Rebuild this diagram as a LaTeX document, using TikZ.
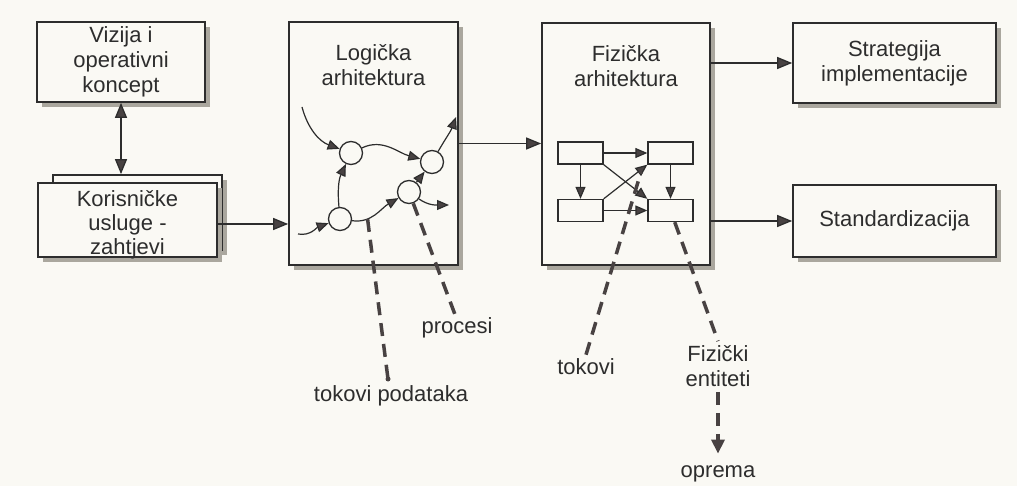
\documentclass[tikz,border=0pt]{standalone}
\usepackage{fontspec}
\setmainfont{Liberation Sans}
\usetikzlibrary{arrows.meta}
\definecolor{papir}{RGB}{250,249,244}
\definecolor{linija}{RGB}{45,45,45}
\definecolor{sjena}{RGB}{170,167,158}
\definecolor{vrh}{RGB}{72,66,66}
\begin{document}
\begin{tikzpicture}[x=1pt,y=1pt,
  font=\fontsize{22}{25}\selectfont, text=linija,
  okvir/.style={draw=linija,line width=1.7pt,fill=papir,shape=rectangle,inner sep=0pt,align=center,
    preaction={fill=sjena,transform canvas={xshift=5pt,yshift=-5pt}}},
  kutija/.style={draw=linija,line width=1.3pt,fill=papir,inner sep=0pt,minimum width=45pt,minimum height=22pt},
  krug/.style={draw=linija,line width=1.3pt,fill=papir,circle,inner sep=0pt,minimum size=23pt},
  tok/.style={draw=linija,line width=1.3pt,-{Triangle[length=15pt,width=12pt,fill=vrh]}},
  tokic/.style={draw=linija,line width=1.2pt,-{Triangle[length=12pt,width=10pt,fill=vrh]}},
  crtkano/.style={draw=vrh,line width=3.5pt,dash pattern=on 13pt off 8pt},
  oznaka/.style={inner sep=0pt,align=center}]
\fill[papir] (0,0) rectangle (1017,-486);
\useasboundingbox (0,0) rectangle (1017,-486);

% lijeva strana
\node[okvir,minimum width=168pt,minimum height=80pt] (viz) at (121,-62) {Vizija i\\operativni\\koncept};
\node[okvir,minimum width=169pt,minimum height=75pt] (korb) at (137.5,-212.5) {};
\node[okvir,minimum width=179pt,minimum height=74pt] (korf) at (127.5,-220) {};
\node[oznaka,font=\fontsize{22}{24}\selectfont] (kort) at (127.5,-224.5) {Korisničke\\usluge -\\zahtjevi};
\draw[tok,{Triangle[length=15pt,width=12pt,fill=vrh]}-{Triangle[length=15pt,width=12pt,fill=vrh]}]
  (viz.south) -- (viz.south |- korb.north);

% logicka arhitektura
\node[okvir,minimum width=169pt,minimum height=243pt] (log) at (373.5,-143.5) {};
\node[oznaka] (logt) at ([yshift=-44pt]log.north) {Logička\\arhitektura};
\draw[tok] ([yshift=-4pt]korf.east) -- ([yshift=-4pt]korf.east -| log.west);
\node[krug] (c1) at (351,-153) {};
\node[krug] (c2) at (432,-162) {};
\node[krug] (c3) at (409,-192) {};
\node[krug] (c4) at (340,-219) {};
\coordinate (ul1) at (302,-107);
\coordinate (ul4) at (298,-234);
\coordinate (iz2) at (456,-117);
\coordinate (iz3) at (449,-205);
\draw[tokic] (ul1) to[out=-75,in=160] (c1);
\draw[tokic] (c1) to[out=25,in=165] (c2);
\draw[tokic] (c2) to[out=60,in=-110] (iz2);
\draw[tokic] (ul4) to[out=-10,in=200] (c4);
\draw[tokic] (c4) to[out=95,in=-115] (c1);
\draw[tokic] (c4) to[out=-8,in=210] coordinate[pos=0.3] (tpk) (c3);
\draw[tokic] (c3) -- (c2);
\draw[tokic] (c3) to[out=-35,in=180] (iz3);

% fizicka arhitektura
\node[okvir,minimum width=168pt,minimum height=242pt] (fiz) at (626,-144) {};
\node[oznaka] (fizt) at ([yshift=-44pt]fiz.north) {Fizička\\arhitektura};
\draw[tok] (log.east) -- (log.east -| fiz.west);
\node[kutija] (r1) at (580.5,-153) {};
\node[kutija] (r2) at (670.5,-153) {};
\node[kutija] (r3) at (580.5,-210.5) {};
\node[kutija] (r4) at (670.5,-210.5) {};
\draw[tokic] (r1) -- (r2);
\draw[tokic] (r3) -- (r4);
\draw[tokic] (r1) -- (r3);
\draw[tokic] (r2) -- (r4);
\draw[tokic] (r1.south east) -- (r4.north west);
\draw[tokic] (r3.north east) -- (r2.south west);

% desna strana
\node[okvir,minimum width=203pt,minimum height=80pt] (str) at (894.5,-63) {Strategija\\implementacije};
\node[okvir,minimum width=203pt,minimum height=72pt] (std) at (894.5,-221) {Standardizacija};
\draw[tok] (fiz.east |- str) -- (str.west);
\draw[tok] (fiz.east |- std) -- (std.west);

% oznake
\node[oznaka] (tp) at (391,-396) {tokovi podataka};
\coordinate (tpt) at (388,-379);
\draw[crtkano] (tpk) -- (tpt);
\fill[vrh] (tpt) circle (2.5pt);
\node[oznaka] (pr) at (457,-328) {procesi};
\draw[crtkano] (c3) -- ([xshift=-2pt,yshift=3pt]pr.north);
\node[oznaka] (tk) at (586,-367) {tokovi};
\coordinate (tkk) at (641,-172);
\draw[crtkano] ([yshift=4pt]tk.north) -- (tkk);
\node[oznaka] (ent) at (718,-366) {Fizički\\entiteti};
\draw[crtkano] (r4) -- ([yshift=4pt]ent.north);
\node[oznaka] (opr) at (718,-474) {oprema};
\draw[crtkano,-{Triangle[length=14pt,width=13pt,fill=vrh]}] ([yshift=-5pt]ent.south) -- ([yshift=12pt]opr.north);
\end{tikzpicture}
\end{document}
